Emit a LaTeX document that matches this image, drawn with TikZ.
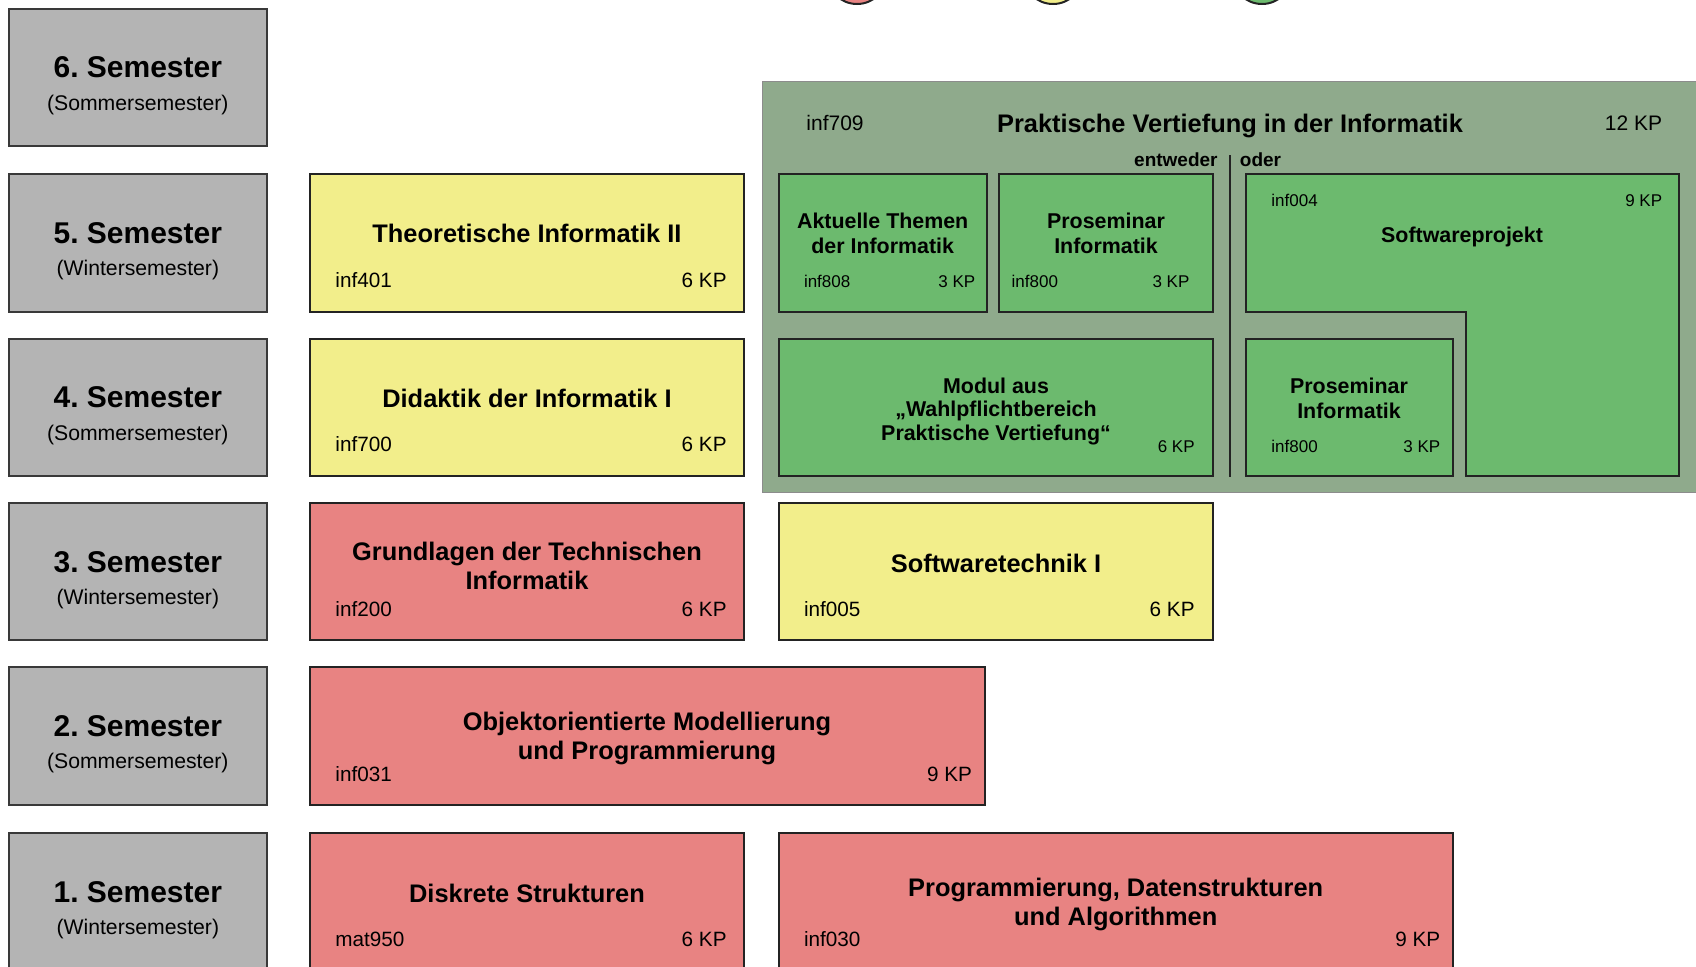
\documentclass[tikz,border=0pt]{standalone}
\usepackage{fontspec}
\setmainfont{Liberation Sans}
\usetikzlibrary{fit}
\definecolor{semgray}{RGB}{180,180,180}
\definecolor{modyellow}{RGB}{242,238,139}
\definecolor{modred}{RGB}{232,131,130}
\definecolor{modgreen}{RGB}{108,186,110}
\definecolor{pvgreen}{RGB}{143,170,140}
\definecolor{edge}{RGB}{35,35,35}
\frenchspacing
\begin{document}
\begin{tikzpicture}[x=0.5pt,y=-0.5pt,
  box/.style={draw=edge, line width=1pt, inner sep=0pt},
  sembox/.style={box, draw=edge!90, fill=semgray},
  semt/.style={font=\bfseries\fontsize{15}{18}\selectfont, inner sep=0pt, anchor=base, yshift=-5.4pt},
  sems/.style={font=\fontsize{10.6}{12.7}\selectfont, inner sep=0pt, anchor=base, yshift=-3.8pt},
  mt/.style={font=\bfseries\fontsize{12.7}{14.5}\selectfont, inner sep=0pt, anchor=base, yshift=-4.57pt},
  mtm/.style={font=\bfseries\fontsize{12.7}{14.5}\selectfont, inner sep=0pt, align=center, anchor=north},
  code/.style={font=\fontsize{10.35}{12}\selectfont, inner sep=0pt, yshift=-3.73pt},
  codeL/.style={code, anchor=base west},
  codeR/.style={code, anchor=base east},
  itm/.style={font=\bfseries\fontsize{10.7}{12.85}\selectfont, inner sep=0pt, align=center, anchor=north},
  it/.style={font=\bfseries\fontsize{10.7}{12.85}\selectfont, inner sep=0pt, anchor=base, yshift=-3.85pt},
  ic/.style={font=\fontsize{8.5}{10}\selectfont, inner sep=0pt, yshift=-3.06pt},
  icL/.style={ic, anchor=base west},
  icR/.style={ic, anchor=base east},
  pvc/.style={font=\fontsize{10.5}{12}\selectfont, inner sep=0pt, yshift=-3.78pt},
  ent/.style={font=\bfseries\fontsize{9.5}{11}\selectfont, inner sep=0pt, yshift=-3.42pt},
  legend/.style={circle, draw=edge, line width=1pt, minimum size=30pt, inner sep=0pt}
]
\useasboundingbox (0,0) rectangle (1696,966);
\clip (0,0) rectangle (1696,966);

% legend circles (cut at top)
\node[legend, fill=modred] (lred) at (857,-26) {};
\node[legend, fill=modyellow] (lyellow) at (1053,-26) {};
\node[legend, fill=modgreen] (lgreen) at (1262,-26) {};

% semesters
\foreach \n/\t/\sub in {6/8.65/Sommersemester,5/174.1/Wintersemester,4/338.5/Sommersemester,3/503/Wintersemester,2/667.3/Sommersemester,1/832.8/Wintersemester}{
  \node[sembox, fit={(8.65,\t) (267,\t+137.4)}] (sem\n) {};
  \node[semt] (semt\n) at (137.8,\t+58.5) {\n.\ Semester};
  \node[sems] (sems\n) at (137.8,\t+94) {(\sub)};
}

% Praktische Vertiefung
\node[draw=black!45, line width=0.8pt, fill=pvgreen, inner sep=0pt, fit={(762.5,81.5) (1712,492.5)}] (pv) {};
\node[pvc, anchor=base west] (pvcode) at (806,123.3) {inf709};
\node[mt] (pvtitle) at (1230,123.3) {Praktische Vertiefung in der Informatik};
\node[pvc, anchor=base east] (pvkp) at (1662.5,123.3) {12 KP};
\node[ent, anchor=base east] (entweder) at (1218,160) {entweder};
\node[ent, anchor=base west] (oder) at (1239.5,160) {oder};
\coordinate (dtop) at (1230,155);
\coordinate (dbot) at (1230,477);
\draw[edge, line width=1pt] (dtop) -- (dbot);

% Aktuelle Themen
\node[box, fill=modgreen, fit={(779,174.1) (986.5,311.5)}] (akt) {};
\node[itm] (aktt) at (882.7,212.1) {Aktuelle Themen\\der Informatik};
\node[icL] (aktc) at (803.6,281.7) {inf808};
\node[icR] (aktk) at (975.6,281.7) {3 KP};

% Proseminar 1
\node[box, fill=modgreen, fit={(999.4,174.1) (1212.5,311.5)}] (psa) {};
\node[itm] (psat) at (1106,212.1) {Proseminar\\Informatik};
\node[icL] (psac) at (1011.3,281.7) {inf800};
\node[icR] (psak) at (1189.8,281.7) {3 KP};

% Modul aus Wahlpflichtbereich
\node[box, fill=modgreen, fit={(779,338.5) (1212.5,475.9)}] (wpf) {};
\node[itm, font=\bfseries\fontsize{10.7}{11.85}\selectfont] (wpft) at (996,377.1) {Modul aus\\„Wahlpflichtbereich\\Praktische Vertiefung“};
\node[icR] (wpfk) at (1195,446.7) {6 KP};

% Softwareprojekt (L-shape)
\coordinate (swa) at (1246,174.1);
\coordinate (swb) at (1679,174.1);
\coordinate (swc) at (1679,476);
\coordinate (swd) at (1465.6,476);
\coordinate (swe) at (1465.6,311.5);
\coordinate (swf) at (1246,311.5);
\draw[box, fill=modgreen] (swa) -- (swb) -- (swc) -- (swd) -- (swe) -- (swf) -- cycle;
\node[icL] (swpc) at (1271,200.7) {inf004};
\node[icR] (swpk) at (1662.5,200.7) {9 KP};
\node[it] (swpt) at (1462,235) {Softwareprojekt};

% Proseminar 2
\node[box, fill=modgreen, fit={(1246,338.5) (1452.6,475.9)}] (psb) {};
\node[itm] (psbt) at (1349,377.1) {Proseminar\\Informatik};
\node[icL] (psbc) at (1271,446.7) {inf800};
\node[icR] (psbk) at (1440.7,446.7) {3 KP};

% Theoretische Informatik II
\node[box, fill=modyellow, fit={(310,174.1) (744,311.5)}] (ti) {};
\node[mt] (tit) at (527,233.6) {Theoretische Informatik II};
\node[codeL] (tic) at (335,280) {inf401};
\node[codeR] (tik) at (727,280) {6 KP};

% Didaktik
\node[box, fill=modyellow, fit={(310,338.5) (744,475.9)}] (did) {};
\node[mt] (didt) at (527,398) {Didaktik der Informatik I};
\node[codeL] (didc) at (335,444.5) {inf700};
\node[codeR] (didk) at (727,444.5) {6 KP};

% Grundlagen Technische Informatik
\node[box, fill=modred, fit={(310,503) (744,640.4)}] (gti) {};
\node[mtm] (gtit) at (527,541.2) {Grundlagen der Technischen\\Informatik};
\node[codeL] (gtic) at (335,609) {inf200};
\node[codeR] (gtik) at (727,609) {6 KP};

% Softwaretechnik I
\node[box, fill=modyellow, fit={(779,503) (1212.5,640.4)}] (swt) {};
\node[mt] (swtt) at (996,563.5) {Softwaretechnik I};
\node[codeL] (swtc) at (803.6,609) {inf005};
\node[codeR] (swtk) at (1195,609) {6 KP};

% OOMP
\node[box, fill=modred, fit={(310,667.3) (984.5,804.7)}] (oomp) {};
\node[mtm] (oompt) at (647,711.9) {Objektorientierte Modellierung\\und Programmierung};
\node[codeL] (oompc) at (335,774) {inf031};
\node[codeR] (oompk) at (972.4,774) {9 KP};

% Diskrete Strukturen
\node[box, fill=modred, fit={(310,832.8) (744,970.2)}] (ds) {};
\node[mt] (dst) at (527,893.3) {Diskrete Strukturen};
\node[codeL] (dsc) at (335,939) {mat950};
\node[codeR] (dsk) at (727,939) {6 KP};

% PDA
\node[box, fill=modred, fit={(779,832.8) (1452.5,970.2)}] (pda) {};
\node[mtm] (pdat) at (1115.7,877.4) {Programmierung, Datenstrukturen\\und Algorithmen};
\node[codeL] (pdac) at (803.6,939) {inf030};
\node[codeR] (pdak) at (1440.7,939) {9 KP};
\end{tikzpicture}
\end{document}
